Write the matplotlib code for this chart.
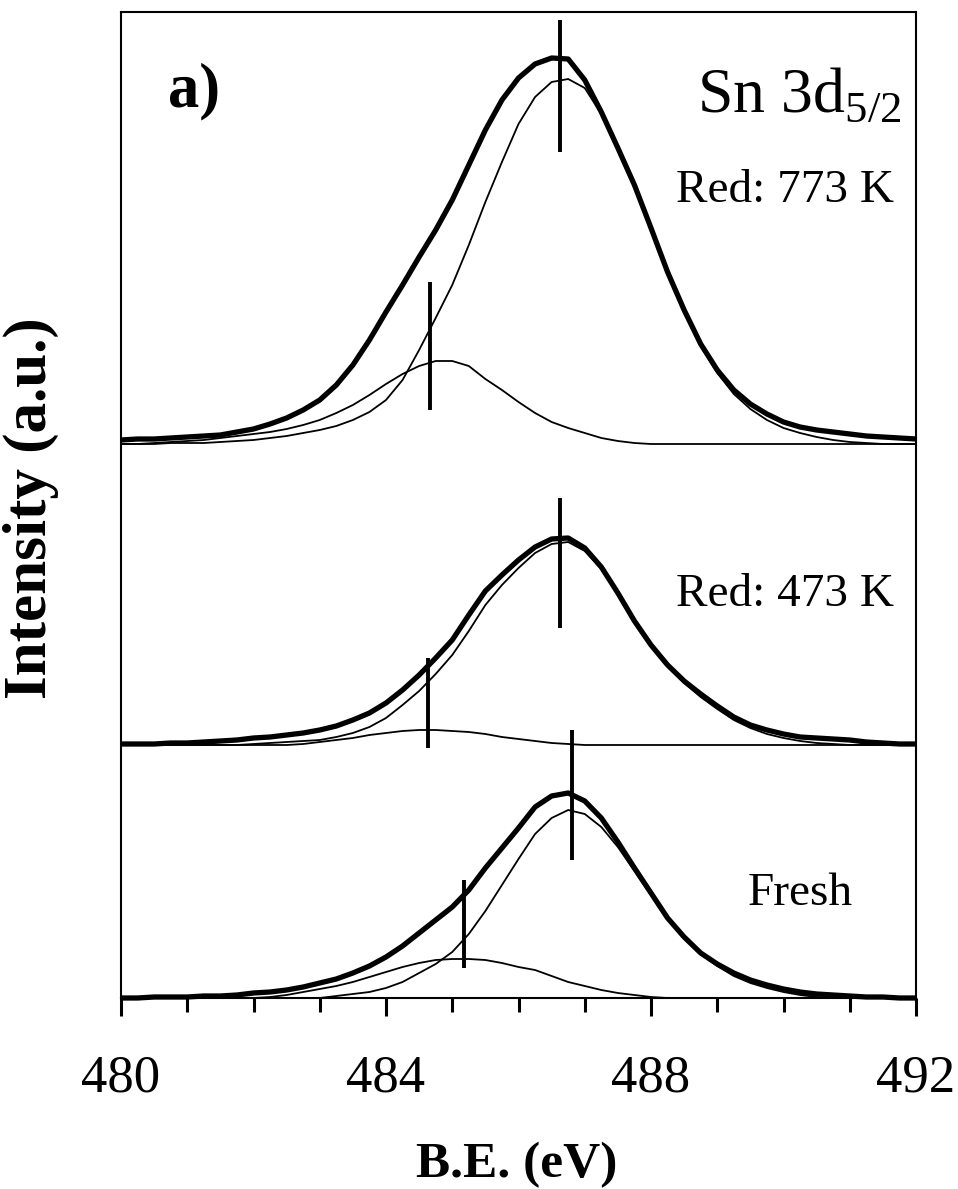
import matplotlib
matplotlib.use("Agg")
import matplotlib.pyplot as plt
from matplotlib.ticker import MultipleLocator, FixedLocator

plt.rcParams['font.family'] = ['Liberation Serif', 'DejaVu Serif']
plt.rcParams['mathtext.fontset'] = 'custom'
plt.rcParams['mathtext.rm'] = 'Liberation Serif'

# ---------------- data (intensity in arbitrary units) ----------------
binding_energy = [480.0, 480.25, 480.5, 480.75, 481.0, 481.25, 481.5, 481.75,
                  482.0, 482.25, 482.5, 482.75, 483.0, 483.25, 483.5, 483.75,
                  484.0, 484.25, 484.5, 484.75, 485.0, 485.25, 485.5, 485.75,
                  486.0, 486.25, 486.5, 486.75, 487.0, 487.25, 487.5, 487.75,
                  488.0, 488.25, 488.5, 488.75, 489.0, 489.25, 489.5, 489.75,
                  490.0, 490.25, 490.5, 490.75, 491.0, 491.25, 491.5, 491.75,
                  492.0]

red773_total = [0, 1, 1, 2, 3, 4, 5, 8, 11, 16, 22, 30, 40, 55, 75, 100,
                128, 155, 183, 210, 240, 275, 310, 340, 362, 376, 382, 381,
                360, 328, 292, 255, 212, 168, 130, 96, 70, 50, 36, 26,
                18, 13, 10, 8, 6, 4, 3, 2, 1]
red773_main = [-4, -4, -4, -3, -3, -3, -2, -1, 0, 2, 4, 7, 10, 14, 20, 28,
               40, 60, 90, 122, 155, 195, 238, 278, 316, 343, 358, 361,
               352, 326, 292, 255, 212, 168, 128, 94, 67, 46, 31, 20,
               12, 7, 3, 0, -2, -3, -4, -4, -4]
red773_minor = [-4, -4, -3, -2, -1, 0, 2, 4, 6, 8, 11, 15, 20, 27, 35, 45,
                56, 66, 74, 79, 79, 74, 61, 50, 38, 27, 18, 12,
                7, 2, -1, -3, -4, -4, -4, -4, -4, -4, -4, -4,
                -4, -4, -4, -4, -4, -4, -4, -4, -4]

red473_total = [1, 1, 1, 2, 2, 3, 4, 5, 7, 8, 10, 12, 15, 19, 25, 32,
                42, 55, 70, 87, 105, 130, 154, 170, 185, 198, 206, 207,
                197, 178, 152, 124, 100, 80, 64, 51, 39, 28, 20, 15,
                11, 8, 7, 6, 5, 3, 2, 1, 1]
red473_main = [0, 0, 0, 0, 0, 0, 0, 0, 1, 2, 3, 4, 5, 8, 12, 18,
               27, 40, 54, 71, 90, 114, 140, 160, 177, 192, 201, 203,
               194, 176, 151, 123, 99, 79, 62, 48, 36, 25, 17, 11,
               7, 4, 2, 1, 0, 0, 0, 0, 0]
red473_minor = [0, 0, 0, 0, 0, 0, 0, 0, 0, 0, 0, 1, 3, 5, 7, 10,
                12, 14, 15, 15, 14, 13, 11, 8, 6, 4, 2, 1,
                0, 0, 0, 0, 0, 0, 0, 0, 0, 0, 0, 0,
                0, 0, 0, 0, 0, 0, 0, 0, 0]

fresh_total = [0, 0, 1, 1, 1, 2, 2, 3, 5, 6, 8, 11, 15, 19, 25, 32,
               41, 52, 65, 78, 91, 108, 130, 150, 170, 191, 202, 205,
               197, 180, 156, 130, 105, 80, 61, 45, 34, 25, 18, 13,
               9, 6, 4, 3, 2, 1, 1, 0, 0]
fresh_main = [0, 0, 0, 0, 0, 0, 0, 0, 0, 0, 0, 0, 0, 2, 4, 6,
              10, 16, 25, 34, 46, 64, 87, 113, 139, 164, 180, 188,
              184, 171, 151, 127, 103, 79, 60, 44, 32, 22, 15, 10,
              6, 3, 1, 0, 0, 0, 0, 0, 0]
fresh_minor = [0, 0, 0, 0, 0, 0, 0, 0, 0, 1, 3, 6, 9, 12, 16, 21,
               26, 31, 35, 38, 39, 39, 38, 35, 31, 28, 22, 16,
               12, 8, 5, 3, 1, 0, 0, 0, 0, 0, 0, 0,
               0, 0, 0, 0, 0, 0, 0, 0, 0]

# peak-position markers: (B.E., lower, upper) relative to each spectrum baseline
red773_markers = [(486.63, 288, 420), (484.66, 30, 158)]
red473_markers = [(486.63, 117, 247), (484.63, -3, 87)]
fresh_markers = [(486.81, 138, 268), (485.18, 30, 118)]

sample_labels = ["Red: 773 K", "Red: 473 K", "Fresh"]
x_ticks = [480, 484, 488, 492]

# ---------------- figure ----------------
fig = plt.figure(figsize=(9.58, 11.89), dpi=100)
ax = fig.add_axes([121 / 958, 1 - 998 / 1189, 795 / 958, 986 / 1189])

spectra = [
    (red773_total, red773_main, red773_minor, red773_markers, 558),
    (red473_total, red473_main, red473_minor, red473_markers, 253),
    (fresh_total, fresh_main, fresh_minor, fresh_markers, 0),
]

for total, main, minor, markers, off in spectra:
    ax.plot(binding_energy, [v + off for v in main], color='black', lw=1.3,
            clip_on=False, zorder=2)
    ax.plot(binding_energy, [v + off for v in minor], color='black', lw=1.3,
            clip_on=False, zorder=2)
    ax.plot(binding_energy, [v + off for v in total], color='black', lw=3.8,
            clip_on=False, zorder=3, solid_capstyle='butt')
    for pos, lo, hi in markers:
        ax.vlines(pos, lo + off, hi + off, color='black', lw=2.8, zorder=4)

ax.set_xlim(480, 492)
ax.set_ylim(0, 986)

ax.xaxis.set_major_locator(FixedLocator(x_ticks))
ax.xaxis.set_minor_locator(MultipleLocator(1))
ax.tick_params(axis='x', which='major', direction='out', length=13, width=2.2,
               pad=28, labelsize=38)
ax.tick_params(axis='x', which='minor', direction='out', length=10, width=2.2)
ax.set_yticks([])
for s in ax.spines.values():
    s.set_linewidth(1.5)

ax.set_xlabel('B.E. (eV)', fontsize=37, fontweight='bold')
ax.xaxis.set_label_coords(0.498, -0.146)
ax.xaxis.label.set_va('top')
ax.set_ylabel('Intensity (a.u.)', fontsize=44, fontweight='bold')
ax.yaxis.set_label_coords(-0.078, 0.497)

ax.text(0.059, 0.904, 'a)', transform=ax.transAxes, fontsize=45,
        fontweight='bold', ha='left', va='baseline')
ax.text(0.982, 0.899, 'Sn 3d$_{\\mathregular{5/2}}$', transform=ax.transAxes,
        fontsize=46, ha='right', va='baseline')
ax.text(0.972, 0.807, sample_labels[0], transform=ax.transAxes, fontsize=34,
        ha='right', va='baseline')
ax.text(0.972, 0.3975, sample_labels[1], transform=ax.transAxes, fontsize=34,
        ha='right', va='baseline')
ax.text(0.921, 0.0943, sample_labels[2], transform=ax.transAxes, fontsize=34,
        ha='right', va='baseline')

fig.savefig('out.png', dpi=100)
